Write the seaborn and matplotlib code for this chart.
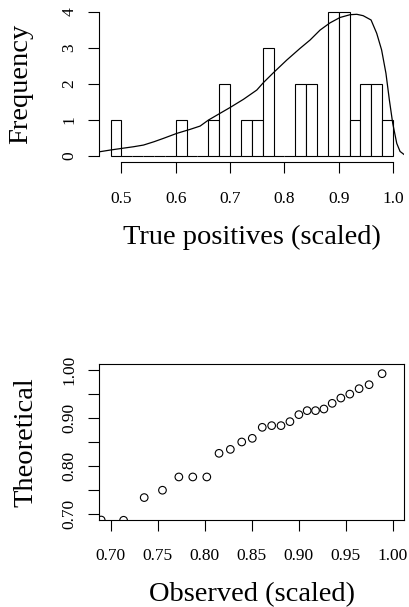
import matplotlib
matplotlib.use("Agg")
import matplotlib.pyplot as plt
import seaborn as sns
import numpy as np

# --- data -----------------------------------------------------------------
# scaled true-positive rates (one value per run)
tp_values = [0.49, 0.61, 0.67, 0.69, 0.69, 0.73, 0.75,
             0.77, 0.77, 0.77, 0.83, 0.83, 0.85, 0.85,
             0.89, 0.89, 0.89, 0.89, 0.91, 0.91, 0.91, 0.91,
             0.93, 0.95, 0.95, 0.97, 0.97, 0.99]

# fitted density, scaled to counts
curve_x = [0.4592, 0.4800, 0.5007, 0.5220, 0.5405, 0.5600, 0.5773, 0.6020,
           0.6264, 0.6449, 0.6600, 0.6817, 0.7000, 0.7246, 0.7492, 0.7613,
           0.7798, 0.8044, 0.8289, 0.8473, 0.8657, 0.8840, 0.9025, 0.9210,
           0.9333, 0.9450, 0.9596, 0.9700, 0.9790, 0.9870, 0.9933, 0.9995,
           1.0069, 1.0130, 1.0208]
curve_y = [0.11, 0.16, 0.205, 0.25, 0.297, 0.39, 0.483, 0.622,
           0.733, 0.825, 0.99, 1.18, 1.34, 1.567, 1.825, 2.03,
           2.306, 2.658, 2.983, 3.214, 3.49, 3.69, 3.84, 3.917,
           3.928, 3.89, 3.77, 3.40, 2.94, 2.29, 1.55, 0.90,
           0.344, 0.12, 0.03]

# quantile-quantile points
qq_observed = [0.690, 0.7138, 0.7357, 0.7551, 0.7725, 0.7873, 0.8022, 0.8152,
               0.8272, 0.8393, 0.8505, 0.8611, 0.8711, 0.8810, 0.8905, 0.9000,
               0.9088, 0.9177, 0.9266, 0.9354, 0.9446, 0.9541, 0.9640, 0.9746,
               0.9884]
qq_theoretical = [0.688, 0.6875, 0.7347, 0.7500, 0.7776, 0.7776, 0.7776, 0.8268,
                  0.8350, 0.8504, 0.8580, 0.8809, 0.8844, 0.8844, 0.8927, 0.9073,
                  0.9156, 0.9156, 0.9190, 0.9308, 0.9418, 0.9500, 0.9613, 0.9696,
                  0.9925]

hist_xticks = [0.5, 0.6, 0.7, 0.8, 0.9, 1.0]
hist_xticklabels = ["0.5", "0.6", "0.7", "0.8", "0.9", "1.0"]
hist_yticks = [0, 1, 2, 3, 4]
hist_yticklabels = ["0", "1", "2", "3", "4"]
qq_xticks = [0.70, 0.75, 0.80, 0.85, 0.90, 0.95, 1.00]
qq_xticklabels = ["0.70", "0.75", "0.80", "0.85", "0.90", "0.95", "1.00"]
qq_yticks = [0.70, 0.75, 0.80, 0.85, 0.90, 0.95, 1.00]
qq_yticklabels = ["0.70", "", "0.80", "", "0.90", "", "1.00"]

# --- style ----------------------------------------------------------------
sns.set_style("ticks")
plt.rcParams["font.family"] = ["Liberation Serif", "DejaVu Serif"]
plt.rcParams["axes.linewidth"] = 0.8
plt.rcParams["axes.edgecolor"] = "black"
plt.rcParams["text.color"] = "black"
plt.rcParams["axes.labelcolor"] = "black"
plt.rcParams["xtick.color"] = "black"
plt.rcParams["ytick.color"] = "black"

TICK_FS = 12.5
LABEL_FS = 20.5

fig = plt.figure(figsize=(4.09, 6.07), dpi=100)
fig.patch.set_facecolor("white")

# --- histogram with density curve -----------------------------------------
ax1 = fig.add_axes([0.2428, 0.7339, 0.7457, 0.2563])
sns.histplot(x=tp_values, bins=26, binrange=(0.48, 1.0), stat="count",
             color="white", edgecolor="black", linewidth=0.8, alpha=1,
             ax=ax1)
sns.lineplot(x=curve_x, y=curve_y, color="black", linewidth=0.9,
             sort=False, estimator=None, ax=ax1)
ax1.set_xlim(0.4592, 1.0208)
ax1.set_ylim(-0.16, 4.16)
ax1.set_xticks(hist_xticks, hist_xticklabels)
ax1.set_yticks(hist_yticks, hist_yticklabels)
sns.despine(ax=ax1)
ax1.spines["left"].set_bounds(0, 4)
ax1.spines["bottom"].set_bounds(0.5, 1.0)
ax1.tick_params(axis="both", direction="out", length=7.9, width=0.8,
                color="black", labelsize=TICK_FS, labelcolor="black")
ax1.tick_params(axis="x", pad=13.5)
ax1.tick_params(axis="y", pad=8, labelrotation=90)
for lab in ax1.get_yticklabels():
    lab.set_va("center")
ax1.set_xlabel("True positives (scaled)", fontsize=LABEL_FS, color="black")
ax1.set_ylabel("Frequency", fontsize=LABEL_FS, color="black")
ax1.xaxis.set_label_coords(0.5, -0.408)
ax1.yaxis.set_label_coords(-0.2164, 0.5)
ax1.grid(False)

# --- Q-Q plot -------------------------------------------------------------
ax2 = fig.add_axes([0.2428, 0.1433, 0.7457, 0.2565])
sns.scatterplot(x=qq_observed, y=qq_theoretical, marker="o", s=30,
                facecolor="none", edgecolor="black", linewidth=0.8, ax=ax2)
ax2.set_xlim(0.688, 1.012)
ax2.set_ylim(0.688, 1.012)
ax2.set_xticks(qq_xticks, qq_xticklabels)
ax2.set_yticks(qq_yticks, qq_yticklabels)
for side in ["top", "right", "left", "bottom"]:
    ax2.spines[side].set_visible(True)
    ax2.spines[side].set_color("black")
    ax2.spines[side].set_linewidth(0.8)
ax2.tick_params(axis="both", direction="out", length=7.9, width=0.8,
                color="black", labelsize=TICK_FS, labelcolor="black")
ax2.tick_params(axis="x", pad=12.5)
ax2.tick_params(axis="y", pad=8, labelrotation=90)
for lab in ax2.get_yticklabels():
    lab.set_va("center")
ax2.set_xlabel("Observed (scaled)", fontsize=LABEL_FS, color="black")
ax2.set_ylabel("Theoretical", fontsize=LABEL_FS, color="black")
ax2.xaxis.set_label_coords(0.5, -0.400)
ax2.yaxis.set_label_coords(-0.198, 0.5)
ax2.grid(False)

fig.savefig("out.png", dpi=100, facecolor="white")
